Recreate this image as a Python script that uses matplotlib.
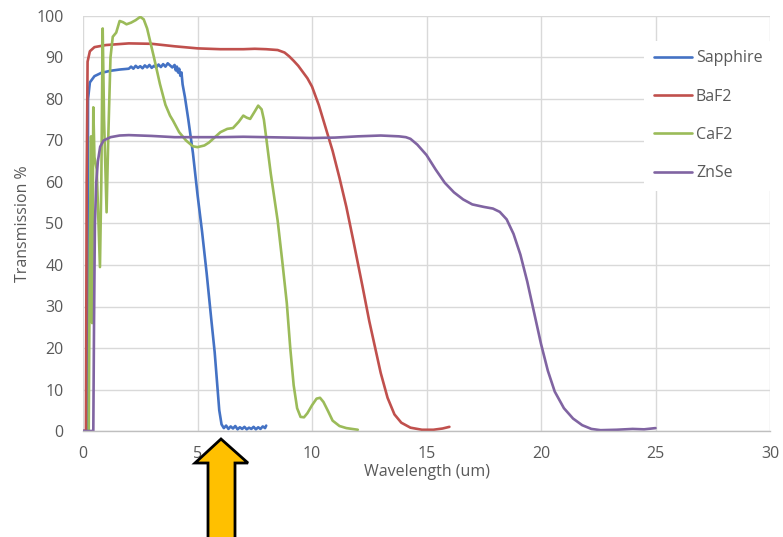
import matplotlib
matplotlib.use('Agg')

import matplotlib.pyplot as plt
from matplotlib.patches import Polygon

plt.rcParams['font.family'] = ['Open Sans', 'DejaVu Sans']

# Transmission curves (wavelength in um, transmission in %)
sapphire_x = [0, 0.18, 0.2, 0.22, 0.3, 0.5, 0.8, 1.2, 1.6, 2.0,
              2.1, 2.2, 2.3, 2.4, 2.5, 2.6, 2.7, 2.8, 2.9, 3.0, 3.1, 3.2, 3.3, 3.4,
              3.5, 3.6, 3.7, 3.8, 3.9, 4.0, 4.05, 4.1, 4.15, 4.2, 4.25, 4.3, 4.35,
              4.45, 4.6, 4.8, 5.0, 5.2, 5.4, 5.6, 5.75, 5.85, 5.95, 6.05,
              6.15, 6.25, 6.35, 6.45, 6.55, 6.65, 6.75, 6.85, 6.95, 7.05, 7.15, 7.25,
              7.35, 7.45, 7.55, 7.65, 7.75, 7.85, 7.95, 8.0]
sapphire_y = [0, 0, 20, 80, 84, 85.5, 86.3, 86.8, 87.1, 87.3,
              87.8, 87.3, 88.0, 87.5, 87.9, 87.4, 88.1, 87.6, 88.2, 87.5, 88.0, 87.6, 88.3, 87.7,
              88.4, 87.8, 88.6, 88.1, 87.6, 88.2, 86.9, 87.8, 86.4, 87.3, 85.6, 86.4, 83.5,
              80.5, 75, 67, 57, 48, 38, 27, 19, 12, 5, 1.6,
              0.7, 1.3, 0.5, 1.1, 0.6, 1.2, 0.4, 0.9, 0.5, 1.0, 0.4, 0.8,
              0.5, 1.0, 0.4, 0.9, 0.5, 1.1, 0.7, 1.3]

baf2_x = [0, 0.1, 0.13, 0.16, 0.2, 0.3, 0.5, 1, 2, 3, 4, 5, 6, 7, 7.5, 8, 8.5, 8.8,
          9.0, 9.2, 9.4, 9.6, 9.8, 10.0, 10.3, 10.6, 10.9, 11.2, 11.5, 11.8, 12.2, 12.5,
          12.8, 13.0, 13.3, 13.6, 13.9, 14.3, 14.8, 15.3, 15.7, 16.0]
baf2_y = [0, 0, 0, 60, 89, 91.5, 92.5, 93, 93.4, 93.3, 92.7, 92.2, 92, 92, 92.1, 92, 91.8, 91.2,
          90.3, 89.2, 88, 86.5, 85, 83, 78.5, 73, 67.5, 61, 54, 46, 35, 26.5,
          19, 14, 8, 4, 2, 0.8, 0.3, 0.3, 0.6, 1.0]

caf2_x = [0.25, 0.3, 0.35, 0.4, 0.45, 0.5, 0.6, 0.74, 0.8, 0.86, 0.92, 1.03, 1.1, 1.2,
          1.3, 1.45, 1.6, 1.75, 1.9, 2.1, 2.3, 2.5, 2.65, 2.8, 2.95, 3.1, 3.36, 3.6, 3.8,
          3.93, 4.2, 4.5, 4.8, 5.0, 5.3, 5.5, 5.8, 6.0, 6.3, 6.55, 6.8, 7.0, 7.15, 7.3,
          7.5, 7.65, 7.8, 7.9, 8.0, 8.2, 8.5, 8.7, 8.9, 9.05, 9.2, 9.35, 9.5, 9.65, 9.8,
          10.0, 10.2, 10.35, 10.5, 10.7, 10.9, 11.2, 11.5, 12.0]
caf2_y = [0, 45, 71, 26, 78, 66, 63, 39.5, 60, 97, 75, 52.7, 70, 90,
          95, 96, 98.8, 98.5, 98, 98.4, 99, 99.8, 99.2, 97, 93.5, 90, 83.6, 78.6, 76,
          74.8, 72, 70, 68.6, 68.4, 68.8, 69.5, 71, 72, 72.8, 73, 74.5, 76, 75.5, 75.2,
          77, 78.4, 77.5, 75, 70.7, 62, 50.7, 41, 30.8, 20, 11, 5.5, 3.4, 3.3, 4.3,
          6.2, 7.8, 8, 7, 4.8, 2.5, 1.2, 0.7, 0.3]

znse_x = [0, 0.42, 0.45, 0.48, 0.52, 0.58, 0.65, 0.75, 0.9, 1.2, 1.6, 2, 3, 4, 5, 6, 7,
          8, 9, 10, 11, 12, 13, 13.8, 14.1, 14.3, 14.6, 15.0, 15.4, 15.8, 16.2, 16.6, 17.0,
          17.5, 17.9, 18.2, 18.5, 18.8, 19.1, 19.4, 19.7, 20.0, 20.3, 20.6, 21.0, 21.4,
          21.8, 22.2, 22.6, 23.3, 24, 24.5, 25]
znse_y = [0, 0, 0, 25, 50, 60, 65, 68.5, 70, 70.8, 71.2, 71.3, 71.1, 70.8, 70.8, 70.8, 70.9,
          70.8, 70.7, 70.6, 70.7, 71.0, 71.2, 71.0, 70.8, 70.4, 69, 66.5, 63, 59.8, 57.5, 55.8, 54.6,
          54, 53.6, 52.8, 51, 47.5, 42.5, 36, 28.5, 21, 14.5, 9.5, 5.5, 3,
          1.4, 0.5, 0.2, 0.3, 0.5, 0.4, 0.7]

series = [
    ('Sapphire', sapphire_x, sapphire_y, '#4472C4'),
    ('BaF2', baf2_x, baf2_y, '#C0504D'),
    ('CaF2', caf2_x, caf2_y, '#9BBB59'),
    ('ZnSe', znse_x, znse_y, '#8064A2'),
]

x_ticks = [0, 5, 10, 15, 20, 25, 30]
y_ticks = [0, 10, 20, 30, 40, 50, 60, 70, 80, 90, 100]

W, H = 783, 537
fig = plt.figure(figsize=(W / 100, H / 100), dpi=100)
ax = fig.add_axes([83 / W, 1 - 431 / H, (770 - 83) / W, (431 - 16) / H])

for label, xs, ys, color in series:
    ax.plot(xs, ys, color=color, linewidth=1.9, label=label,
            solid_joinstyle='round', solid_capstyle='round')

ax.set_xlim(0, 30)
ax.set_ylim(0, 100)
ax.set_xticks(x_ticks)
ax.set_yticks(y_ticks)
ax.grid(True, color='#D9D9D9', linewidth=1.0)
ax.set_axisbelow(True)
for side in ['top', 'right', 'left']:
    ax.spines[side].set_visible(False)
ax.spines['bottom'].set_color('#BFBFBF')
ax.spines['bottom'].set_linewidth(1.0)
ax.tick_params(length=0, labelsize=11.5, colors='#595959')
ax.tick_params(axis='y', pad=14)
ax.tick_params(axis='x', pad=11)

ax.set_xlabel('Wavelength (um)', fontsize=11.5, color='#595959', labelpad=1)
ax.set_ylabel('Transmission %', fontsize=11.5, color='#595959', labelpad=4)

leg = ax.legend(loc='upper left', bbox_to_anchor=(0.805, 0.96), frameon=True,
                fontsize=11.5, handlelength=2.4, handletextpad=0.25,
                labelspacing=1.4, borderpad=0.6)
leg.get_frame().set_facecolor('white')
leg.get_frame().set_edgecolor('none')
leg.get_frame().set_alpha(1.0)
for t in leg.get_texts():
    t.set_color('#595959')

# Upward arrow under the axis
arrow_px = [(221, 439), (248, 463), (235, 463), (235, 545), (208, 545), (208, 463), (195, 463)]
arrow = Polygon([(px / W, 1 - py / H) for px, py in arrow_px], closed=True,
                transform=fig.transFigure, facecolor='#FFC000', edgecolor='black',
                linewidth=2, joinstyle='miter', clip_on=False)
fig.patches.append(arrow)

fig.savefig('out.png', dpi=100)
